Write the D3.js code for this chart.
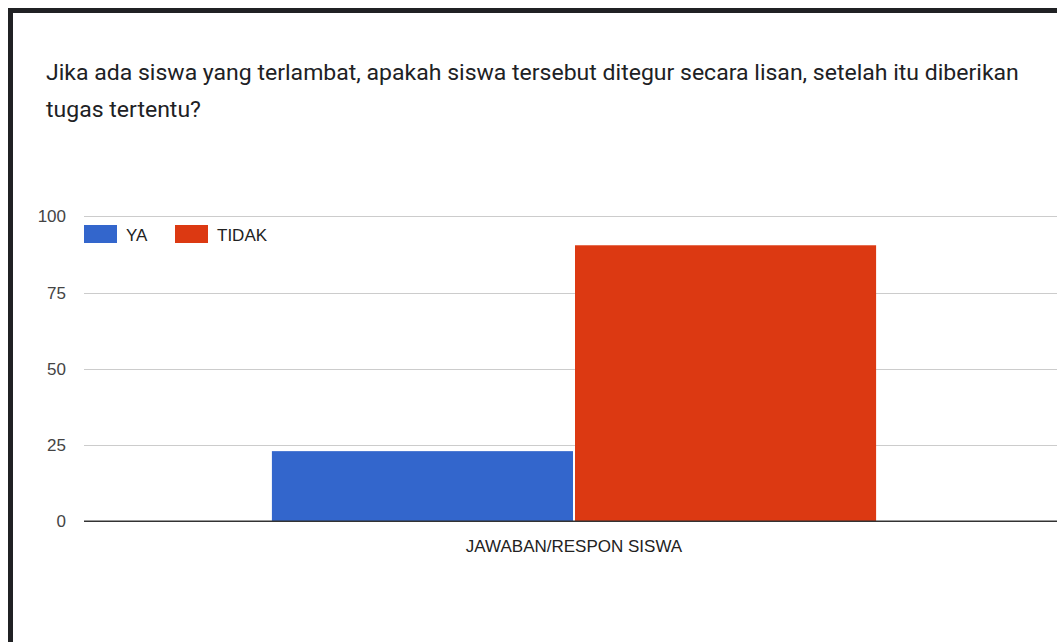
<!DOCTYPE html>
<html>
<head>
<meta charset="utf-8">
<script src="https://cdn.jsdelivr.net/npm/d3@7"></script>
<style>
  body { margin: 0; background: #fff; }
  svg { display: block; }
</style>
</head>
<body>
<div id="chart"></div>
<script>
// chart data
var titleLines = ["Jika ada siswa yang terlambat, apakah siswa tersebut ditegur secara lisan, setelah itu diberikan", "tugas tertentu?"];
var categories = ["JAWABAN/RESPON SISWA"];
var seriesNames = ["YA", "TIDAK"];
var seriesValues = [[23], [90.5]];
var yTicks = [0, 25, 50, 75, 100];
var colors = ["#3366cc", "#dc3912"];

var svgWidth = 1057;
var svgHeight = 642;

var svg = d3.select("#chart")
  .append("svg")
  .attr("width", svgWidth)
  .attr("height", svgHeight);

// dark frame (top and left edges visible)
svg.append("rect")
  .attr("x", 10.5)
  .attr("y", 10.5)
  .attr("width", 1100)
  .attr("height", 700)
  .attr("fill", "none")
  .attr("stroke", "#202124")
  .attr("stroke-width", 5);

// title, slightly stretched like the screenshot
var titleGroup = svg.append("g")
  .attr("transform", "translate(46, 0) scale(1.047, 1)");

titleGroup.selectAll(".title")
  .data(titleLines)
  .enter()
  .append("text")
  .attr("class", "title")
  .attr("x", 0)
  .attr("y", (d, i) => 80 + i * 37)
  .attr("font-family", "Roboto, sans-serif")
  .attr("font-size", "22px")
  .attr("fill", "#202124")
  .text(d => d);

var plotLeft = 84, plotRight = 1064, plotTop = 216.3, plotBottom = 521.3;

var yScale = d3.scaleLinear()
  .domain([0, 100])
  .range([plotBottom, plotTop]);

var xScale = d3.scaleBand()
  .domain(categories)
  .range([plotLeft, plotRight])
  .paddingInner(0)
  .paddingOuter(0.311);

var xSub = d3.scaleBand()
  .domain(seriesNames)
  .range([0, xScale.bandwidth()]);

// gridlines
svg.selectAll(".grid")
  .data(yTicks.filter(d => d > 0))
  .enter()
  .append("line")
  .attr("class", "grid")
  .attr("x1", plotLeft)
  .attr("x2", svgWidth)
  .attr("y1", d => Math.round(yScale(d)) + 0.5)
  .attr("y2", d => Math.round(yScale(d)) + 0.5)
  .attr("stroke", "#cccccc")
  .attr("stroke-width", 1.2);

// y tick labels
svg.selectAll(".ylabel")
  .data(yTicks)
  .enter()
  .append("text")
  .attr("class", "ylabel")
  .attr("x", 66)
  .attr("y", d => yScale(d) + 6)
  .attr("text-anchor", "end")
  .attr("font-family", "Liberation Sans, Arial, sans-serif")
  .attr("font-size", "17px")
  .attr("fill", "#444")
  .text(d => d);

// bars
seriesNames.forEach(function(name, s) {
  svg.selectAll(".bar-" + s)
    .data(categories)
    .enter()
    .append("rect")
    .attr("class", "bar-" + s)
    .attr("x", d => xScale(d) + xSub(name) + (s > 0 ? 1 : 0))
    .attr("width", xSub.bandwidth() - 1)
    .attr("y", (d, i) => yScale(seriesValues[s][i]))
    .attr("height", (d, i) => plotBottom - yScale(seriesValues[s][i]))
    .attr("fill", colors[s]);
});

// baseline
svg.append("line")
  .attr("x1", plotLeft)
  .attr("x2", svgWidth)
  .attr("y1", plotBottom)
  .attr("y2", plotBottom)
  .attr("stroke", "#333")
  .attr("stroke-width", 1.6);

// x category label
svg.selectAll(".xlabel")
  .data(categories)
  .enter()
  .append("text")
  .attr("class", "xlabel")
  .attr("x", d => xScale(d) + xScale.bandwidth() / 2)
  .attr("y", 552)
  .attr("text-anchor", "middle")
  .attr("font-family", "Liberation Sans, Arial, sans-serif")
  .attr("font-size", "17px")
  .attr("fill", "#222")
  .text(d => d);

// legend
var legendX = [84, 175];
var legend = svg.selectAll(".legend")
  .data(seriesNames)
  .enter()
  .append("g")
  .attr("class", "legend")
  .attr("transform", (d, i) => `translate(${legendX[i]}, 225)`);

legend.append("rect")
  .attr("width", 33)
  .attr("height", 18)
  .attr("fill", (d, i) => colors[i]);

legend.append("text")
  .attr("x", 42)
  .attr("y", 16)
  .attr("font-family", "Liberation Sans, Arial, sans-serif")
  .attr("font-size", "17px")
  .attr("fill", "#222")
  .text(d => d);
</script>
</body>
</html>
